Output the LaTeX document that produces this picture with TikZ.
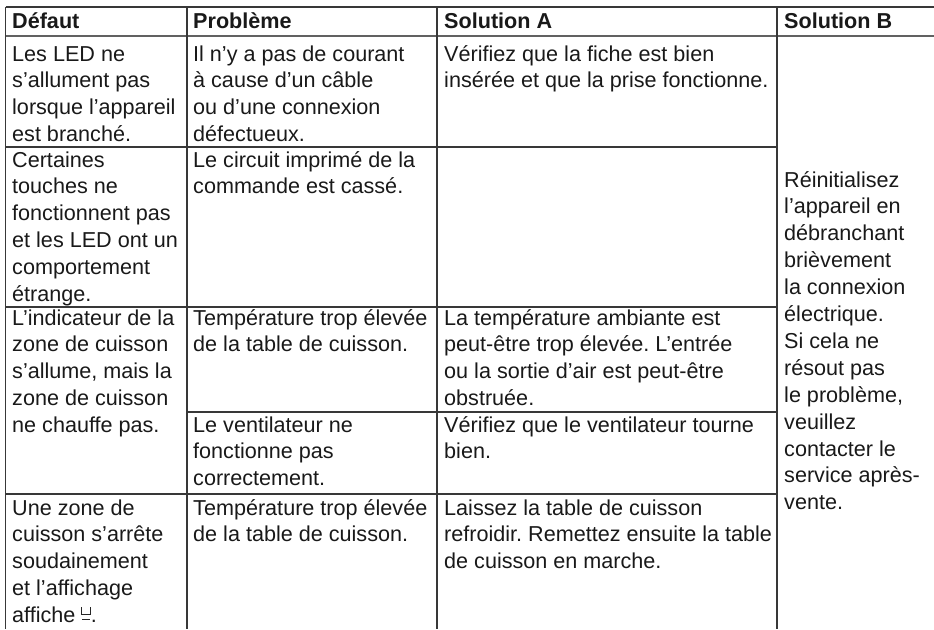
\documentclass[tikz,border=0pt]{standalone}
\usepackage{fontspec}
\setmainfont{Liberation Sans}
\frenchspacing
\newcommand\celllines[1]{\begin{tabular}[t]{@{}l@{}}#1\end{tabular}}
\newcommand\hotsym{\tikz[baseline=0pt,x=1pt,y=1pt,line width=1pt]{\draw[black!85] (0.5,15.5) -- (0.5,8.5) -- (9,8.5) -- (9,15.5); \draw[black!85] (1,3) -- (8.5,3);}}
\begin{document}
\begin{tikzpicture}[x=1pt,y=-1pt,
  gridline/.style={draw=black!78, line width=1.1pt},
  headline/.style={draw=black!62, line width=1.8pt},
  celltext/.style={anchor=base west, inner sep=0pt, text=black!90, font=\fontsize{21.6}{26.9}\selectfont},
  headtext/.style={celltext, font=\fontsize{21.6}{26.9}\selectfont\bfseries}]
\useasboundingbox (0,0) rectangle (934,629);
% grid corners
\coordinate (tl) at (5.5,7);   \coordinate (tr) at (934,7);
\coordinate (hl) at (5.5,36);  \coordinate (hr) at (934,36);
\coordinate (r1l) at (5.5,147); \coordinate (r1r) at (777,147);
\coordinate (r2l) at (5.5,307); \coordinate (r2r) at (777,307);
\coordinate (r3l) at (187,412); \coordinate (r3r) at (777,412);
\coordinate (r4l) at (5.5,494); \coordinate (r4r) at (777,494);
\coordinate (v0t) at (5.5,7); \coordinate (v0b) at (5.5,629);
\coordinate (v1t) at (187,7); \coordinate (v1b) at (187,629);
\coordinate (v2t) at (437,7); \coordinate (v2b) at (437,629);
\coordinate (v3t) at (777,7); \coordinate (v3b) at (777,629);
\draw[gridline] (tl) -- (tr);
\draw[headline] (hl) -- (hr);
\draw[gridline] (r1l) -- (r1r);
\draw[gridline] (r2l) -- (r2r);
\draw[gridline] (r3l) -- (r3r);
\draw[gridline] (r4l) -- (r4r);
\draw[gridline] (v0t) -- (v0b);
\draw[gridline] (v1t) -- (v1b);
\draw[gridline] (v2t) -- (v2b);
\draw[gridline] (v3t) -- (v3b);
% header
\node[headtext] (h1) at (12,28.5) {Défaut};
\node[headtext] (h2) at (193,28.5) {Problème};
\node[headtext] (h3) at (444,28.5) {Solution A};
\node[headtext] (h4) at (784,28.5) {Solution B};
% row 1
\node[celltext] (a1) at (12,61) {\celllines{Les LED ne\\s’allument pas\\lorsque l’appareil\\est branché.}};
\node[celltext] (b1) at (193,61) {\celllines{Il n’y a pas de courant\\à cause d’un câble\\ou d’une connexion\\défectueux.}};
\node[celltext] (c1) at (444,61) {\celllines{Vérifiez que la fiche est bien\\insérée et que la prise fonctionne.}};
% row 2
\node[celltext] (a2) at (12,167) {\celllines{Certaines\\touches ne\\fonctionnent pas\\et les LED ont un\\comportement\\étrange.}};
\node[celltext] (b2) at (193,167) {\celllines{Le circuit imprimé de la\\commande est cassé.}};
% row 3
\node[celltext] (a3) at (12,325) {\celllines{L’indicateur de la\\zone de cuisson\\s’allume, mais la\\zone de cuisson\\ne chauffe pas.}};
\node[celltext] (b3) at (193,325) {\celllines{Température trop élevée\\de la table de cuisson.}};
\node[celltext] (c3) at (444,325) {\celllines{La température ambiante est\\peut-être trop élevée. L’entrée\\ou la sortie d’air est peut-être\\obstruée.}};
\node[celltext] (b3b) at (193,432) {\celllines{Le ventilateur ne\\fonctionne pas\\correctement.}};
\node[celltext] (c3b) at (444,432) {\celllines{Vérifiez que le ventilateur tourne\\bien.}};
% row 4
\node[celltext] (a4) at (12,515) {\celllines{Une zone de\\cuisson s’arrête\\soudainement\\et l’affichage\\affiche \hotsym.}};
\node[celltext] (b4) at (193,515) {\celllines{Température trop élevée\\de la table de cuisson.}};
\node[celltext] (c4) at (444,515) {\celllines{Laissez la table de cuisson\\refroidir. Remettez ensuite la table\\de cuisson en marche.}};
% solution B
\node[celltext] (d1) at (784,187) {\celllines{Réinitialisez\\l’appareil en\\débranchant\\brièvement\\la connexion\\électrique.\\Si cela ne\\résout pas\\le problème,\\veuillez\\contacter le\\service après-\\vente.}};
\end{tikzpicture}
\end{document}
